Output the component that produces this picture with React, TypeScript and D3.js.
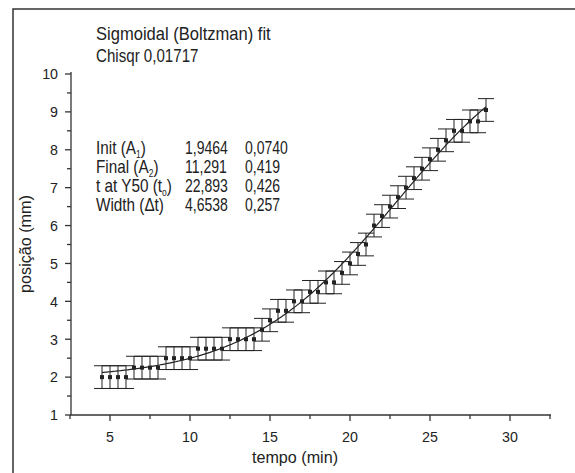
import React from "react";
import { scaleLinear, line, range } from "d3";

// measured data: time (min) and position (mm)
const times = [
  4.5, 5, 5.5, 6, 6.5, 7, 7.5, 8, 8.5, 9, 9.5, 10, 10.5, 11, 11.5, 12, 12.5, 13, 13.5, 14,
  14.5, 15, 15.5, 16, 16.5, 17, 17.5, 18, 18.5, 19, 19.5, 20, 20.5, 21, 21.5, 22, 22.5, 23,
  23.5, 24, 24.5, 25, 25.5, 26, 26.5, 27, 27.5, 28, 28.5,
];
const positions = [
  2.0, 2.0, 2.0, 2.0, 2.25, 2.25, 2.25, 2.25, 2.5, 2.5, 2.5, 2.5, 2.75, 2.75, 2.75, 2.75, 3.0, 3.0, 3.0, 3.0,
  3.25, 3.5, 3.75, 3.75, 4.0, 4.0, 4.25, 4.25, 4.5, 4.5, 4.75, 5.0, 5.25, 5.5, 6.0, 6.25, 6.5, 6.75,
  7.0, 7.25, 7.5, 7.75, 8.0, 8.25, 8.5, 8.5, 8.75, 8.75, 9.05,
];
const yErr = 0.3;

// Boltzmann fit parameters (from the annotation)
const fitLabels = ["Init (A", "Final (A", "t at Y50 (t", "Width (Δt)"];
const fitSubs = ["1", "2", "o", ""];
const fitValues = ["1,9464", "11,291", "22,893", "4,6538"];
const fitErrors = ["0,0740", "0,419", "0,426", "0,257"];
const A1 = 1.9464, A2 = 11.291, X0 = 22.893, DX = 4.6538;

const xMajor = [5, 10, 15, 20, 25, 30];
const xMinor = [2.5, 7.5, 12.5, 17.5, 22.5, 27.5, 32.5];
const yMajor = [1, 2, 3, 4, 5, 6, 7, 8, 9, 10];
const yMinor = [1.5, 2.5, 3.5, 4.5, 5.5, 6.5, 7.5, 8.5, 9.5];

const FONT = "'Liberation Sans', Arial, sans-serif";
const INK = "#222";

// condensed text: regular font squeezed horizontally
function CText({ x, y, sx = 0.87, size, anchor = "start", rotate = 0, children }: any) {
  return (
    <text
      transform={`translate(${x},${y}) rotate(${rotate}) scale(${sx},1)`}
      fontSize={size}
      textAnchor={anchor}
      fill={INK}
    >
      {children}
    </text>
  );
}

export default function App() {
  const x = scaleLinear().domain([2.5, 32.5]).range([70, 550]);
  const y = scaleLinear().domain([1, 10]).range([415, 74]);
  const capHalf = 8;

  const boltz = (t: number) => A2 + (A1 - A2) / (1 + Math.exp((t - X0) / DX));
  const fitPath = line<number>()
    .x((t) => x(t))
    .y((t) => y(boltz(t)))(range(times[0], times[times.length - 1] + 0.001, 0.1));

  return (
    <svg
      width={575}
      height={473}
      style={{ position: "absolute", left: 0, top: 0, background: "#fff" }}
      fontFamily={FONT}
    >
      {/* outer frame */}
      <rect x={13} y={9} width={600} height={500} fill="none" stroke="#333" strokeWidth={1.5} />

      {/* error bars */}
      <g stroke={INK} strokeWidth={1}>
        {times.map((t, i) => {
          const cx = x(t);
          const y0 = y(positions[i] - yErr);
          const y1 = y(positions[i] + yErr);
          return (
            <g key={i}>
              <line x1={cx} x2={cx} y1={y0} y2={y1} />
              <line x1={cx - capHalf} x2={cx + capHalf} y1={y0} y2={y0} />
              <line x1={cx - capHalf} x2={cx + capHalf} y1={y1} y2={y1} />
            </g>
          );
        })}
      </g>

      {/* fit curve */}
      <path d={fitPath ?? ""} fill="none" stroke={INK} strokeWidth={1.2} />

      {/* markers */}
      {times.map((t, i) => (
        <rect key={i} x={x(t) - 2} y={y(positions[i]) - 2} width={4} height={4} fill={INK} />
      ))}

      {/* axes */}
      <g stroke="#333" strokeWidth={1.3}>
        <line x1={70} x2={551} y1={y(1)} y2={y(1)} />
        <line x1={71} x2={71} y1={72} y2={y(1)} />
        {xMajor.map((v) => (
          <line key={v} x1={x(v)} x2={x(v)} y1={y(1)} y2={y(1) + 6} />
        ))}
        {xMinor.map((v) => (
          <line key={v} x1={x(v)} x2={x(v)} y1={y(1)} y2={y(1) + 4} />
        ))}
        {yMajor.map((v) => (
          <line key={v} x1={71} x2={65} y1={y(v)} y2={y(v)} />
        ))}
        {yMinor.map((v) => (
          <line key={v} x1={71} x2={67} y1={y(v)} y2={y(v)} />
        ))}
      </g>

      {/* tick labels */}
      {xMajor.map((v) => (
        <CText key={v} x={x(v)} y={442} size={15} sx={0.95} anchor="middle">
          {v}
        </CText>
      ))}
      {yMajor.map((v) => (
        <CText key={v} x={58} y={y(v) + 5.3} size={15} sx={0.95} anchor="end">
          {v}
        </CText>
      ))}

      {/* axis titles */}
      <CText x={295} y={463} size={17} sx={0.95} anchor="middle">
        tempo (min)
      </CText>
      <CText x={31} y={244} size={17} sx={0.95} anchor="middle" rotate={-90}>
        posição (mm)
      </CText>

      {/* fit annotation */}
      <CText x={96} y={40} size={18} sx={0.92}>Sigmoidal (Boltzman) fit</CText>
      <CText x={96} y={62} size={18} sx={0.84}>Chisqr 0,01717</CText>
      {fitLabels.map((lab, i) => {
        const by = 154 + i * 19;
        return (
          <g key={i}>
            <CText x={96} y={by} size={18} sx={0.85}>
              {lab}
              {fitSubs[i] && (
                <>
                  <tspan fontSize={10} dy={4}>{fitSubs[i]}</tspan>
                  <tspan dy={-4}>)</tspan>
                </>
              )}
            </CText>
            <CText x={185} y={by} size={18} sx={0.78}>{fitValues[i]}</CText>
            <CText x={245} y={by} size={18} sx={0.78}>{fitErrors[i]}</CText>
          </g>
        );
      })}
    </svg>
  );
}
